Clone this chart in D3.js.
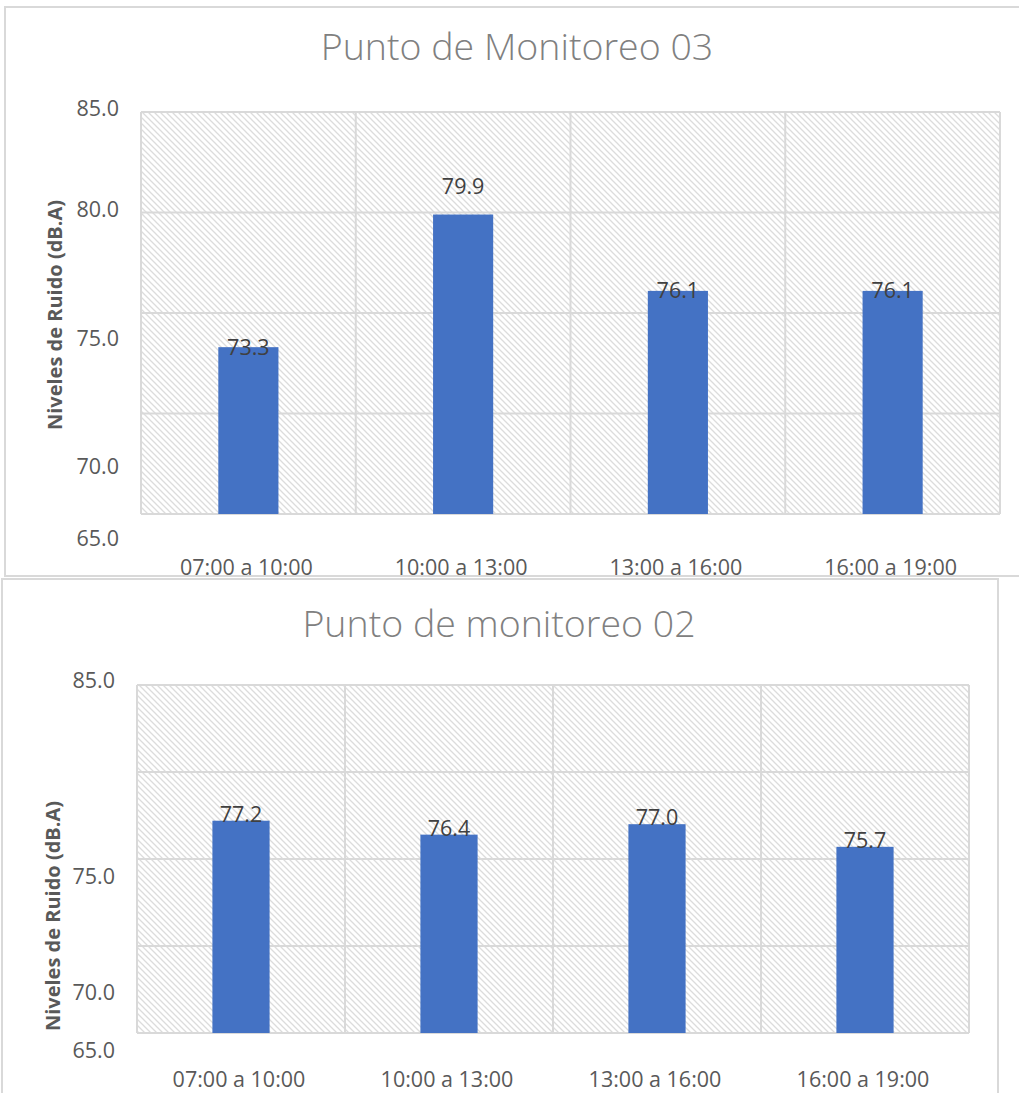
<!DOCTYPE html>
<html>
<head>
<meta charset="utf-8">
<script src="https://cdn.jsdelivr.net/npm/d3@7"></script>
<style>
  html, body { margin: 0; padding: 0; background: #ffffff; }
  svg { display: block; font-family: "Open Sans", "DejaVu Sans", sans-serif; }
</style>
</head>
<body>
<svg id="chart" width="1019" height="1093"></svg>
<script>
// ---- data ----
const categories = ["07:00 a 10:00", "10:00 a 13:00", "13:00 a 16:00", "16:00 a 19:00"];
const valuesPunto03 = [73.3, 79.9, 76.1, 76.1];
const valuesPunto02 = [77.2, 76.4, 77.0, 75.7];
const tickValues03 = [85, 80, 75, 70, 65];
const tickValues02 = [85, 75, 70, 65];
const gridValues = [65, 70, 75, 80, 85];
const yDomain = [65, 85];
const title03 = "Punto de Monitoreo 03";
const title02 = "Punto de monitoreo 02";
const yTitle = "Niveles de Ruido (dB.A)";

// ---- layout ----
const charts = [
  {
    title: title03, values: valuesPunto03, ticks: tickValues03,
    frame: { x: 5, y: 7, w: 1040, h: 569 },
    plot: { x: 141, y: 112, w: 859, h: 402 },
    titleX: 517, titleY: 60,
    yTitleX: 62, yTitleY: 315,
    tickX: 119, xLabelY: 575,
    tickShift: [-4, -3, 25, 53, 24],
    labelDy: [8, -21, 7, 7],
    barFrac: 0.28
  },
  {
    title: title02, values: valuesPunto02, ticks: tickValues02,
    frame: { x: 2, y: 579, w: 996, h: 540 },
    plot: { x: 137, y: 685, w: 832, h: 348 },
    titleX: 499, titleY: 637,
    yTitleX: 60, yTitleY: 916,
    tickX: 115, xLabelY: 1087,
    tickShift: [-5, 17, 46, 17],
    labelDy: [1, 1, 1, 1],
    barFrac: 0.275
  }
];

const labelSize = 21.5;

const svg = d3.select("#chart");
const defs = svg.append("defs");

// light downward-diagonal hatch used as the plot background
const pat = defs.append("pattern")
  .attr("id", "hatch")
  .attr("patternUnits", "userSpaceOnUse")
  .attr("width", 6).attr("height", 6);
pat.append("rect").attr("width", 6).attr("height", 6).attr("fill", "#ffffff");
pat.append("path")
  .attr("d", "M-1,-1 L7,7 M-1,5 L1,7 M5,-1 L7,1")
  .attr("stroke", "#dcdcdc")
  .attr("stroke-width", 1.3);

function drawChart(c) {
  const g = svg.append("g");

  // chart frame
  g.append("rect")
    .attr("x", c.frame.x).attr("y", c.frame.y)
    .attr("width", c.frame.w).attr("height", c.frame.h)
    .attr("fill", "#ffffff")
    .attr("stroke", "#d9d9d9").attr("stroke-width", 2);

  const x = d3.scaleBand()
    .domain(categories)
    .range([c.plot.x, c.plot.x + c.plot.w])
    .padding(0);
  const y = d3.scaleLinear()
    .domain(yDomain)
    .range([c.plot.y + c.plot.h, c.plot.y]);

  // plot background
  g.append("rect")
    .attr("x", c.plot.x).attr("y", c.plot.y)
    .attr("width", c.plot.w).attr("height", c.plot.h)
    .attr("fill", "url(#hatch)");

  // horizontal gridlines
  g.append("g")
    .selectAll("line")
    .data(gridValues)
    .join("line")
    .attr("x1", c.plot.x).attr("x2", c.plot.x + c.plot.w)
    .attr("y1", d => y(d)).attr("y2", d => y(d))
    .attr("stroke", "#d9d9d9").attr("stroke-width", 2);

  // vertical gridlines at category boundaries
  const bounds = categories.map(d => x(d)).concat([x(categories[categories.length - 1]) + x.bandwidth()]);
  g.append("g")
    .selectAll("line")
    .data(bounds)
    .join("line")
    .attr("x1", d => d).attr("x2", d => d)
    .attr("y1", c.plot.y).attr("y2", c.plot.y + c.plot.h)
    .attr("stroke", "#d9d9d9").attr("stroke-width", 2);

  // bars
  const bw = x.bandwidth() * c.barFrac;
  g.append("g")
    .selectAll("rect")
    .data(c.values)
    .join("rect")
    .attr("x", (d, i) => x(categories[i]) + (x.bandwidth() - bw) / 2)
    .attr("y", d => y(d))
    .attr("width", bw)
    .attr("height", d => y(yDomain[0]) - y(d))
    .attr("fill", "#4472c4");

  // value labels
  g.append("g")
    .selectAll("text")
    .data(c.values)
    .join("text")
    .attr("x", (d, i) => x(categories[i]) + x.bandwidth() / 2)
    .attr("y", (d, i) => y(d) + c.labelDy[i])
    .attr("text-anchor", "middle")
    .attr("font-size", labelSize)
    .attr("fill", "#404040")
    .text(d => d.toFixed(1));

  // y tick labels
  g.append("g")
    .selectAll("text")
    .data(c.ticks)
    .join("text")
    .attr("x", c.tickX)
    .attr("y", (d, i) => y(d) + c.tickShift[i])
    .attr("dy", "0.36em")
    .attr("text-anchor", "end")
    .attr("font-size", labelSize)
    .attr("fill", "#595959")
    .text(d => d.toFixed(1));

  // category labels
  g.append("g")
    .selectAll("text")
    .data(categories)
    .join("text")
    .attr("x", d => x(d) + x.bandwidth() / 2 - 2)
    .attr("y", c.xLabelY)
    .attr("text-anchor", "middle")
    .attr("font-size", labelSize)
    .attr("fill", "#595959")
    .text(d => d);

  // y axis title
  g.append("text")
    .attr("transform", `translate(${c.yTitleX},${c.yTitleY}) rotate(-90)`)
    .attr("text-anchor", "middle")
    .attr("font-size", 20)
    .attr("font-weight", 700)
    .attr("fill", "#595959")
    .text(yTitle);

  // chart title
  g.append("text")
    .attr("x", c.titleX).attr("y", c.titleY)
    .attr("text-anchor", "middle")
    .attr("font-size", 37.5)
    .attr("font-weight", 300)
    .attr("fill", "#808080")
    .text(c.title);
}

charts.forEach(drawChart);
</script>
</body>
</html>
